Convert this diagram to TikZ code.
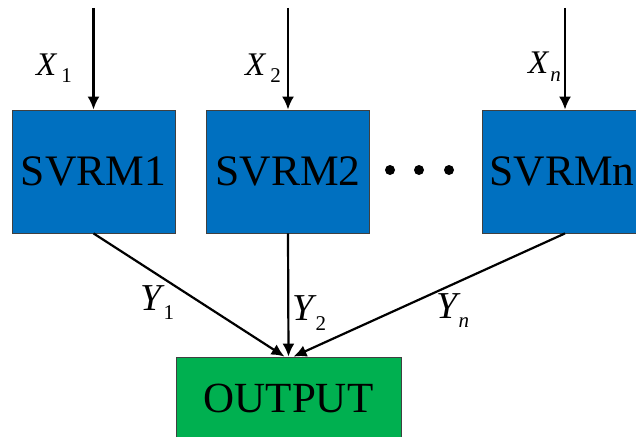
\documentclass[tikz,border=0pt]{standalone}
\usepackage{fontspec}
\setmainfont{Liberation Serif}
\usetikzlibrary{arrows.meta}

\definecolor{svrmblue}{HTML}{0070C0}
\definecolor{outgreen}{HTML}{00B050}
\definecolor{boxedge}{HTML}{404040}

% italic variable with a lowered subscript
\newcommand{\varsub}[5]{{\fontsize{#1}{#1}\selectfont\textit{#2}}\kern#4\raisebox{#5}{\fontsize{21}{21}\selectfont #3}}

\begin{document}
\begin{tikzpicture}[x=1pt,y=-1pt,
  model/.style={draw=boxedge, line width=0.8pt, fill=svrmblue, minimum width=163pt,
    minimum height=123pt, inner sep=0pt, font=\fontsize{43.5}{43.5}\selectfont},
  result/.style={draw=boxedge, line width=0.8pt, fill=outgreen, minimum width=225pt,
    minimum height=82pt, inner sep=0pt, font=\fontsize{43}{43}\selectfont},
  arr/.style={line width=2.2pt, -{Latex[length=13pt,width=12pt]}},
  lab/.style={anchor=base west, inner sep=0pt},
  dot/.style={circle, fill=black, minimum size=10pt, inner sep=0pt}]
  \useasboundingbox (0,0) rectangle (636,436);
  \clip (0,0) rectangle (636,436);

  % model boxes
  \node[model] (b1) at (93.5,171.5) {SVRM1};
  \node[model] (b2) at (288,171.5) {SVRM2};
  \node[model, minimum width=170pt, text width=150pt, align=center] (bn) at (567,171.5) {};
  \node[inner sep=0pt, font=\fontsize{43.5}{43.5}\selectfont] (tn) at (562,171.5) {SVRMn};

  % ellipsis between the boxes
  \node[dot] (d1) at (390,170) {};
  \node[dot] (d2) at (419,170) {};
  \node[dot] (d3) at (449,170) {};

  % output box
  \node[result] (out) at (288.5,398) {OUTPUT};

  % inputs
  \coordinate (i1) at (93.5,8);
  \coordinate (i2) at (288,8);
  \coordinate (in) at (565,8);
  \draw[arr] (i1) -- (b1.north);
  \draw[arr] (i2) -- (b2.north);
  \draw[arr] (in) -- ([xshift=-2pt]bn.north);

  \node[lab] (x1) at (36,75) {\varsub{33}{X}{1}{4pt}{-7pt}};
  \node[lab] (x2) at (245,75) {\varsub{33}{X}{2}{4pt}{-7pt}};
  \node[lab] (xn) at (528,74) {\varsub{33}{X}{\textit{n}}{1pt}{-8pt}};

  % outputs of the models
  \draw[arr] (b1.south) -- ([xshift=-4pt]out.north);
  \draw[arr] (b2.south) -- (out.north);
  \draw[arr] ([xshift=-2pt]bn.south) -- ([xshift=5pt]out.north);

  \node[lab] (y1) at (140,310) {\varsub{38}{Y}{1}{-1pt}{-9pt}};
  \node[lab] (y2) at (292,320) {\varsub{38}{Y}{2}{-1pt}{-10pt}};
  \node[lab] (yn) at (436,318) {\varsub{38}{Y}{\textit{n}}{-2pt}{-9pt}};
\end{tikzpicture}
\end{document}
